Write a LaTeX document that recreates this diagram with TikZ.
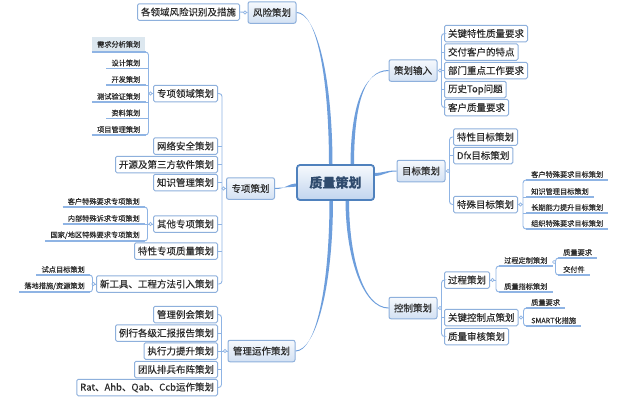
\documentclass[tikz,border=0pt]{standalone}
\usepackage{fontspec}
\setmainfont{Noto Sans CJK SC}[RawFeature={embolden=0.2}]
\definecolor{txt}{HTML}{2B2B2B}
\definecolor{bord}{HTML}{8EB0DC}
\definecolor{ln}{HTML}{8FB4E4}
\definecolor{mainln}{HTML}{6D9EDC}
\definecolor{cbord}{HTML}{4F81BD}
\definecolor{ctxt}{HTML}{2F4B6E}
\definecolor{ltop}{HTML}{F6F9FD}
\definecolor{lbot}{HTML}{D3E1F3}
\definecolor{cbot}{HTML}{C2D5EE}
\definecolor{hl}{HTML}{DCE7EF}
\pgfdeclarelayer{bg}
\pgfsetlayers{bg,main}
\begin{document}
\begin{tikzpicture}[x=1pt,y=-1pt,
 center/.style={draw=cbord, line width=1.8pt, rounded corners=3pt, top color=ltop, bottom color=cbot, minimum width=77pt, minimum height=35pt, inner sep=1pt, font=\fontsize{13}{15}\selectfont\bfseries, text=ctxt},
 lone/.style={draw=bord, line width=1pt, rounded corners=2pt, top color=ltop, bottom color=lbot, minimum height=21.5pt, inner xsep=5pt, inner ysep=1pt, font=\fontsize{9.5}{11}\selectfont, text=txt},
 ltwo/.style={draw=bord, line width=1pt, rounded corners=1.5pt, fill=white, minimum height=16.5pt, inner xsep=3.5pt, inner ysep=1pt, font=\fontsize{9.5}{11}\selectfont, text=txt},
 uline/.style={draw=ln, line width=1.1pt},
 leaf/.style={inner xsep=5pt, inner ysep=2pt, font=\fontsize{7.2}{8.6}\selectfont, text=txt, append after command={(\tikzlastnode.south west) edge[uline] (\tikzlastnode.south east)}},
 sub/.style={draw=ln, line width=0.9pt, rounded corners=3pt},
 mainc/.style={fill=mainln},
 knob/.style={draw=ln, fill=white, line width=0.6pt},
]
\useasboundingbox (0,0) rectangle (628,402);

% ---------- centre ----------
\node[center] (c) at (335.5,182.5) {质量策划};

% ---------- 风险策划 ----------
\node[lone] (fx) at (272,12.5) {风险策划};
\node[ltwo, anchor=east] (fx1) at (240,12) {各领域风险识别及措施};

% ---------- 专项策划 ----------
\node[lone] (zx) at (250.5,188.5) {专项策划};
\node[ltwo, anchor=east] (zx1) at (218,93.5) {专项领域策划};
\node[ltwo, anchor=east] (zx2) at (218,146) {网络安全策划};
\node[ltwo, anchor=east] (zx3) at (218,164.5) {开源及第三方软件策划};
\node[ltwo, anchor=east] (zx4) at (218,182.5) {知识管理策划};
\node[ltwo, anchor=east] (zx5) at (218,224) {其他专项策划};
\node[ltwo, anchor=east] (zx6) at (218,251) {特性专项质量策划};
\node[ltwo, anchor=east] (zx7) at (218,284) {新工具、工程方法引入策划};

\node[leaf, anchor=south east, fill=hl, minimum height=15pt] (a1) at (145.5,52) {需求分析策划};
\node[leaf, anchor=south east] (a2) at (145.5,68.5) {设计策划};
\node[leaf, anchor=south east] (a3) at (145.5,85) {开发策划};
\node[leaf, anchor=south east] (a4) at (145.5,102) {测试验证策划};
\node[leaf, anchor=south east] (a5) at (145.5,118.5) {资料策划};
\node[leaf, anchor=south east] (a6) at (145.5,135) {项目管理策划};

\node[leaf, anchor=south east] (b1) at (145,207) {客户特殊要求专项策划};
\node[leaf, anchor=south east] (b2) at (145,224) {内部特殊诉求专项策划};
\node[leaf, anchor=south east] (b3) at (145,241) {国家/地区特殊要求专项策划};

\node[leaf, anchor=south east] (d1) at (90,275) {试点目标策划};
\node[leaf, anchor=south east] (d2) at (90,292) {落地措施/资源策划};

% ---------- 管理运作策划 ----------
\node[lone] (gl) at (261.5,351) {管理运作策划};
\node[ltwo, anchor=east] (gl1) at (218,314.5) {管理例会策划};
\node[ltwo, anchor=east] (gl2) at (218,333) {例行各级汇报报告策划};
\node[ltwo, anchor=east] (gl3) at (218,351) {执行力提升策划};
\node[ltwo, anchor=east] (gl4) at (218,369.5) {团队排兵布阵策划};
\node[ltwo, anchor=east] (gl5) at (218,387.5) {Rat、Ahb、Qab、Ccb运作策划};

% ---------- 策划输入 ----------
\node[lone] (sr) at (413,70.5) {策划输入};
\node[ltwo, anchor=west] (sr1) at (444,33.5) {关键特性质量要求};
\node[ltwo, anchor=west] (sr2) at (444,52) {交付客户的特点};
\node[ltwo, anchor=west] (sr3) at (444,70.5) {部门重点工作要求};
\node[ltwo, anchor=west] (sr4) at (444,89.5) {历史Top问题};
\node[ltwo, anchor=west] (sr5) at (444,107.5) {客户质量要求};

% ---------- 目标策划 ----------
\node[lone] (mb) at (421,171) {目标策划};
\node[ltwo, anchor=west] (mb1) at (453,137) {特性目标策划};
\node[ltwo, anchor=west] (mb2) at (453,155.5) {Dfx目标策划};
\node[ltwo, anchor=west] (mb3) at (453,204.5) {特殊目标策划};

\node[leaf, anchor=south west] (e1) at (526,180) {客户特殊要求目标策划};
\node[leaf, anchor=south west] (e2) at (526,197) {知识管理目标策划};
\node[leaf, anchor=south west] (e3) at (526,213) {长期能力提升目标策划};
\node[leaf, anchor=south west] (e4) at (526,229) {组织特殊要求目标策划};

% ---------- 控制策划 ----------
\node[lone] (kz) at (413,308) {控制策划};
\node[ltwo, anchor=west] (kz1) at (444,280) {过程策划};
\node[ltwo, anchor=west] (kz2) at (444,317.5) {关键控制点策划};
\node[ltwo, anchor=west] (kz3) at (444,336.5) {质量审核策划};

\node[leaf, anchor=south west] (f1) at (499,266) {过程定制策划};
\node[leaf, anchor=south west] (f2) at (499,292) {质量指标策划};
\node[leaf, anchor=south west] (g1) at (558,258) {质量要求};
\node[leaf, anchor=south west] (g2) at (558,275) {交付件};
\node[leaf, anchor=south west] (h1) at (526,308) {质量要求};
\node[leaf, anchor=south west] (h2) at (526,326) {SMART化措施};

% ---------- tapered main connectors (behind the nodes) ----------
\begin{pgfonlayer}{bg}
\fill[white] (0,0) rectangle (628,402);
\fill[mainc] ([xshift=-6.5pt,yshift=-2pt]c.north) .. controls +(0,-90) and +(20,0) .. ([yshift=0.5pt]fx.east)
  -- ([yshift=-0.5pt]fx.east) .. controls +(20,0) and +(0,-90) .. ([xshift=-3pt,yshift=-2pt]c.north) -- cycle;
\fill[mainc] ([xshift=15pt,yshift=-2pt]c.north) .. controls +(0,-60) and +(-25,0) .. ([yshift=-0.5pt]sr.west)
  -- ([yshift=0.5pt]sr.west) .. controls +(-25,0) and +(0,-60) .. ([xshift=18.5pt,yshift=-2pt]c.north) -- cycle;
\fill[mainc] ([xshift=10pt,yshift=2pt]c.south) .. controls +(0,60) and +(-25,0) .. ([yshift=-0.5pt]kz.west)
  -- ([yshift=0.5pt]kz.west) .. controls +(-25,0) and +(0,60) .. ([xshift=13.5pt,yshift=2pt]c.south) -- cycle;
\fill[mainc] ([xshift=-6pt,yshift=2pt]c.south) .. controls +(0,90) and +(20,0) .. ([yshift=-0.5pt]gl.east)
  -- ([yshift=0.5pt]gl.east) .. controls +(20,0) and +(0,90) .. ([xshift=-2.5pt,yshift=2pt]c.south) -- cycle;
\fill[mainc] ([yshift=-1pt,xshift=2pt]c.west) .. controls +(-12,0) and +(12,0) .. ([yshift=-0.5pt]zx.east)
  -- ([yshift=0.5pt]zx.east) .. controls +(12,0) and +(-12,0) .. ([yshift=-4pt,xshift=2pt]c.west) -- cycle;
\fill[mainc] ([yshift=9.5pt,xshift=-2pt]c.east) .. controls +(12,0) and +(-12,0) .. ([yshift=0.5pt]mb.west)
  -- ([yshift=-0.5pt]mb.west) .. controls +(-12,0) and +(12,0) .. ([yshift=6.5pt,xshift=-2pt]c.east) -- cycle;
\end{pgfonlayer}

% ---------- vertical line positions ----------
\coordinate (vzx) at (222,0);
\coordinate (va) at (148.5,0);
\coordinate (vb) at (147.5,0);
\coordinate (vd) at (92.5,0);
\coordinate (vgl) at (221.5,0);
\coordinate (vsr) at (441.5,0);
\coordinate (vmb) at (449.5,0);
\coordinate (ve) at (523,0);
\coordinate (vf) at (496,0);
\coordinate (vg) at (555.5,0);
\coordinate (vh) at (523.5,0);

% ---------- sub connectors ----------
\draw[sub] (fx.west) -- (fx1.east);

\draw[sub] (zx1.east) -- (zx1.east -| vzx) |- (zx7.east);
\foreach \n in {zx2,zx3,zx4,zx5,zx6} \draw[sub] (\n.east) -- (\n.east -| vzx);
\draw[sub] (zx.west) -- (zx.west -| vzx);

\draw[sub] (a1.south east) -- (a1.south east -| va) |- (a6.south east);
\foreach \n in {a2,a3,a4,a5} \draw[sub] (\n.south east) -- (\n.south east -| va);
\draw[sub] (zx1.west) -- (zx1.west -| va);

\draw[sub] (b1.south east) -- (b1.south east -| vb) |- (b3.south east);
\draw[sub] (b2.south east) -- (b2.south east -| vb);
\draw[sub] (zx5.west) -- (zx5.west -| vb);

\draw[sub] (d1.south east) -- (d1.south east -| vd) |- (d2.south east);
\draw[sub] (zx7.west) -- (zx7.west -| vd);

\draw[sub] (gl1.east) -- (gl1.east -| vgl) |- (gl5.east);
\foreach \n in {gl2,gl3,gl4} \draw[sub] (\n.east) -- (\n.east -| vgl);
\draw[sub] (gl.west) -- (gl.west -| vgl);

\draw[sub] (sr1.west) -- (sr1.west -| vsr) |- (sr5.west);
\foreach \n in {sr2,sr3,sr4} \draw[sub] (\n.west) -- (\n.west -| vsr);
\draw[sub] (sr.east) -- (sr.east -| vsr);

\draw[sub] (mb1.west) -- (mb1.west -| vmb) |- (mb3.west);
\draw[sub] (mb2.west) -- (mb2.west -| vmb);
\draw[sub] (mb.east) -- (mb.east -| vmb);

\draw[sub] (e1.south west) -- (e1.south west -| ve) |- (e4.south west);
\foreach \n in {e2,e3} \draw[sub] (\n.south west) -- (\n.south west -| ve);
\draw[sub] (mb3.east) -- (mb3.east -| ve);

\draw[sub] (kz1.west) -- (kz1.west -| vsr) |- (kz3.west);
\draw[sub] (kz2.west) -- (kz2.west -| vsr);
\draw[sub] (kz.east) -- (kz.east -| vsr);

\draw[sub] (f1.south west) -- (f1.south west -| vf) |- (f2.south west);
\draw[sub] (kz1.east) -- (kz1.east -| vf);

\draw[sub] (g1.south west) -- (g1.south west -| vg) |- (g2.south west);
\draw[sub] ([yshift=4pt]f1.south east) -- ([yshift=4pt]f1.south east -| vg);

\draw[sub] (h1.south west) -- (h1.south west -| vh) |- (h2.south west);
\draw[sub] (kz2.east) -- (kz2.east -| vh);

% ---------- collapse knobs ----------
\draw[knob] ([xshift=-2.5pt]fx.west) circle (1.6pt);
\draw[knob] ([xshift=-2.5pt]zx.west) circle (1.6pt);
\draw[knob] ([xshift=-2.5pt]zx1.west) circle (1.6pt);
\draw[knob] ([xshift=-2.5pt]zx5.west) circle (1.6pt);
\draw[knob] ([xshift=-2.5pt]zx7.west) circle (1.6pt);
\draw[knob] ([xshift=-2.5pt]gl.west) circle (1.6pt);
\draw[knob] ([xshift=2.5pt]sr.east) circle (1.6pt);
\draw[knob] ([xshift=2.5pt]mb.east) circle (1.6pt);
\draw[knob] ([xshift=2.5pt]mb3.east) circle (1.6pt);
\draw[knob] ([xshift=2.5pt]kz.east) circle (1.6pt);
\draw[knob] ([xshift=2.5pt]kz1.east) circle (1.6pt);
\draw[knob] ([xshift=2.5pt]kz2.east) circle (1.6pt);
\draw[knob] ([xshift=1.5pt,yshift=4pt]f1.south east) circle (1.6pt);
\end{tikzpicture}
\end{document}
